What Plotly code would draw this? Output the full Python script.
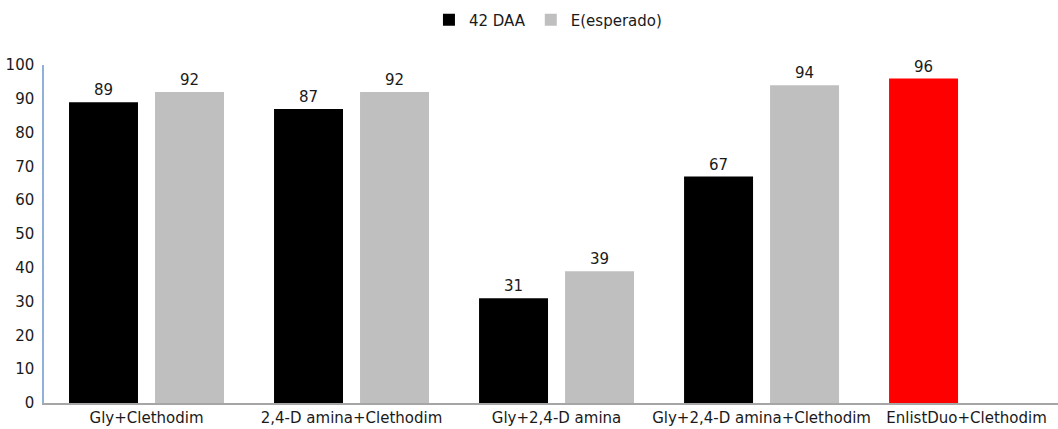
import plotly.graph_objects as go

categories = ["Gly+Clethodim", "2,4-D amina+Clethodim", "Gly+2,4-D amina",
              "Gly+2,4-D amina+Clethodim", "EnlistDuo+Clethodim"]
daa42 = [89, 87, 31, 67, 96]
esperado = [92, 92, 39, 94, None]
daa42_colors = ["#000000", "#000000", "#000000", "#000000", "#ff0000"]
y_ticks = [0, 10, 20, 30, 40, 50, 60, 70, 80, 90, 100]

FONT = "DejaVu Sans"
FS = 15
TXT = "#1a1a1a"

fig = go.Figure()
fig.add_trace(go.Bar(
    name="42 DAA", x=categories, y=daa42,
    marker=dict(color=daa42_colors, line=dict(width=0)),
    text=[str(v) for v in daa42], textposition="outside",
    textfont=dict(family=FONT, size=FS, color=TXT),
    cliponaxis=False,
))
fig.add_trace(go.Bar(
    name="E(esperado)", x=categories, y=esperado,
    marker=dict(color="#bfbfbf", line=dict(width=0)),
    text=[("" if v is None else str(v)) for v in esperado], textposition="outside",
    textfont=dict(family=FONT, size=FS, color=TXT),
    cliponaxis=False,
))

fig.update_layout(
    width=1058, height=429,
    margin=dict(l=44, r=0, t=65, b=26),
    paper_bgcolor="white", plot_bgcolor="white",
    barmode="group", bargap=0.161, bargroupgap=0.198,
    font=dict(family=FONT, size=FS, color=TXT),
    showlegend=True,
    legend=dict(orientation="h", x=0.497, xanchor="center", y=1.133, yanchor="middle",
                font=dict(family=FONT, size=FS, color=TXT),
                itemwidth=30, traceorder="normal"),
    xaxis=dict(range=[-0.5, 4.446], showgrid=False, showline=True,
               linecolor="#a6a6a6", linewidth=1.5, ticks="", automargin=False,
               tickfont=dict(family=FONT, size=FS, color=TXT)),
    yaxis=dict(range=[0, 100], tickvals=y_ticks, showgrid=False, showline=True,
               linecolor="#8fb0d9", linewidth=1.5, ticks="", zeroline=False,
               automargin=False, ticklabelstandoff=5,
               tickfont=dict(family=FONT, size=FS, color=TXT)),
)

fig.write_html("out.html", post_script="document.body.style.margin='0';",
               config={"displayModeBar": False})
